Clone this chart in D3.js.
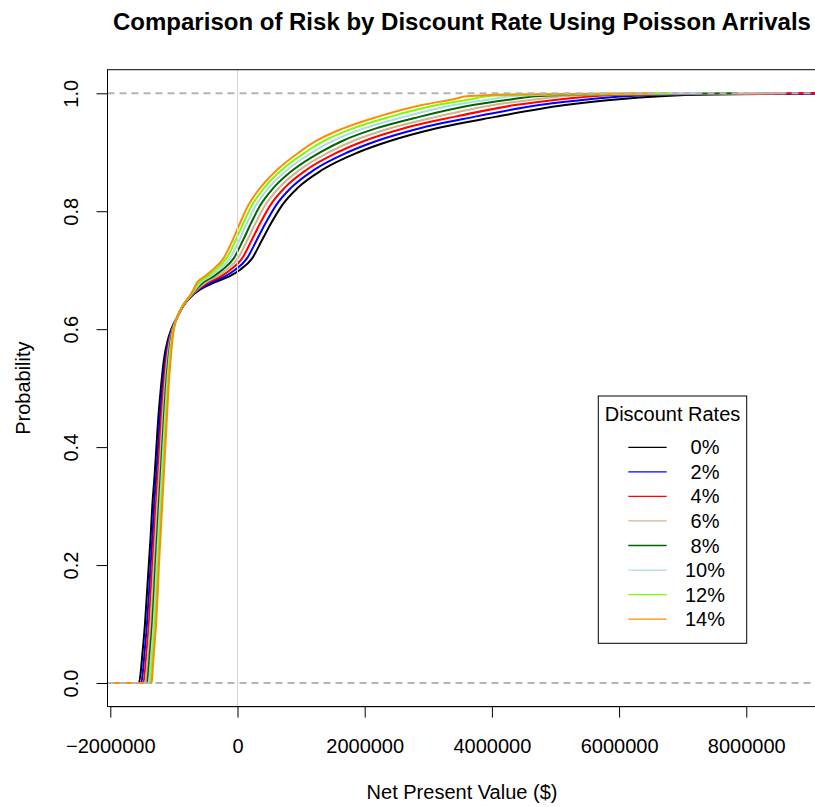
<!DOCTYPE html>
<html><head><meta charset="utf-8">
<script src="https://cdn.jsdelivr.net/npm/d3@7"></script>
<style>
body{margin:0;background:#fff}
svg{display:block}
text{font-family:"Liberation Sans",Arial,Helvetica,sans-serif;fill:#000}
</style>
</head><body>
<svg id="chart" width="815" height="807"></svg>
<script>
// Cumulative probability levels (ECDF) shared by all series
const probs = [0,0.02,0.05,0.10,0.15,0.20,0.25,0.30,0.35,0.40,0.45,0.50,0.55,0.58,0.60,0.62,0.64,0.66,0.68,0.69,0.70,0.72,0.75,0.78,0.81,0.84,0.87,0.90,0.92,0.94,0.96,0.98,0.99,0.995,0.998,1.0];

// Net present value (millions of $) at each probability level, one array per discount rate
const npv0  = [-1.55,-1.52,-1.495,-1.455,-1.425,-1.395,-1.365,-1.34,-1.305,-1.275,-1.245,-1.205,-1.155,-1.10,-1.04,-0.95,-0.85,-0.68,-0.35,-0.12,0.03,0.23,0.38,0.53,0.70,0.95,1.33,1.90,2.42,3.10,4.05,5.15,6.00,6.65,7.40,9.70];
const npv2  = [-1.514,-1.487,-1.463,-1.424,-1.394,-1.366,-1.337,-1.312,-1.279,-1.25,-1.221,-1.183,-1.136,-1.087,-1.033,-0.95,-0.852,-0.689,-0.40,-0.19,-0.047,0.149,0.297,0.442,0.605,0.844,1.202,1.733,2.209,2.839,3.717,4.745,5.532,6.101,6.842,9.45];
const npv4  = [-1.48,-1.455,-1.432,-1.394,-1.366,-1.339,-1.311,-1.286,-1.254,-1.226,-1.198,-1.163,-1.118,-1.074,-1.026,-0.95,-0.854,-0.698,-0.448,-0.257,-0.121,0.073,0.219,0.359,0.515,0.744,1.082,1.575,2.011,2.593,3.403,4.363,5.09,5.583,6.315,9.2];
const npv6  = [-1.45,-1.428,-1.405,-1.368,-1.34,-1.315,-1.288,-1.263,-1.233,-1.205,-1.178,-1.145,-1.103,-1.063,-1.02,-0.95,-0.855,-0.705,-0.49,-0.315,-0.185,0.005,0.15,0.285,0.435,0.655,0.975,1.435,1.835,2.375,3.125,4.025,4.70,5.125,5.85,8.6];
const npv8  = [-1.421,-1.401,-1.379,-1.342,-1.315,-1.292,-1.265,-1.24,-1.211,-1.185,-1.158,-1.128,-1.087,-1.052,-1.014,-0.95,-0.856,-0.712,-0.531,-0.372,-0.247,-0.06,0.083,0.214,0.358,0.569,0.872,1.30,1.665,2.165,2.857,3.699,4.323,4.683,5.40,7.87];
const npv10 = [-1.395,-1.377,-1.355,-1.319,-1.293,-1.271,-1.245,-1.22,-1.193,-1.167,-1.14,-1.112,-1.074,-1.042,-1.009,-0.95,-0.858,-0.719,-0.567,-0.422,-0.303,-0.119,0.024,0.15,0.289,0.493,0.78,1.179,1.513,1.976,2.616,3.406,3.985,4.286,4.998,7.27];
const npv12 = [-1.371,-1.354,-1.334,-1.298,-1.273,-1.252,-1.226,-1.201,-1.175,-1.15,-1.124,-1.098,-1.061,-1.033,-1.004,-0.95,-0.859,-0.725,-0.601,-0.469,-0.355,-0.173,-0.032,0.091,0.226,0.422,0.695,1.068,1.373,1.802,2.394,3.136,3.673,3.92,4.625,6.80];
const npv14 = [-1.35,-1.335,-1.315,-1.28,-1.255,-1.235,-1.21,-1.185,-1.16,-1.135,-1.11,-1.085,-1.05,-1.025,-1.0,-0.95,-0.86,-0.73,-0.63,-0.51,-0.40,-0.22,-0.08,0.04,0.17,0.36,0.62,0.97,1.25,1.65,2.2,2.9,3.4,3.6,4.3,6.56];

const rateLabels = ["0%","2%","4%","6%","8%","10%","12%","14%"];
const rateColors = ["#000000","#0000FF","#FF0000","#D2B48C","#006400","#ADD8E6","#7CFC00","#FF8C00"];
const xTicks = [-2000000,0,2000000,4000000,6000000,8000000];
const yTicks = [0,0.2,0.4,0.6,0.8,1.0];
const xLimits = [-2044000, 9104000];
const yLimits = [-0.04, 1.04];

const seriesNpv = [npv0,npv2,npv4,npv6,npv8,npv10,npv12,npv14];

const svg = d3.select("#chart");
const plotL = 107.5, plotR = 816.5, plotT = 69.7, plotB = 706.6;
const x = d3.scaleLinear().domain(xLimits).range([plotL, plotR]);
const y = d3.scaleLinear().domain(yLimits).range([plotB, plotT]);

svg.append("defs").append("clipPath").attr("id","clip")
  .append("rect").attr("x",plotL).attr("y",plotT).attr("width",plotR-plotL).attr("height",plotB-plotT);

const line = d3.line().x(d=>x(d[0])).y(d=>y(d[1])).curve(d3.curveMonotoneX);

const curves = svg.append("g").attr("clip-path","url(#clip)");
seriesNpv.forEach((arr,i)=>{
  const pts = [[xLimits[0],0]].concat(arr.map((v,j)=>[v*1e6, probs[j]]));
  curves.append("path").datum(pts).attr("d",line)
    .attr("fill","none").attr("stroke",rateColors[i]).attr("stroke-width",2)
    .attr("stroke-linejoin","round");
});

// reference lines
const refs = svg.append("g").attr("clip-path","url(#clip)");
refs.append("line").attr("x1",x(0)).attr("x2",x(0)).attr("y1",plotT).attr("y2",plotB)
  .attr("stroke","#D3D3D3").attr("stroke-width",1);
[0,1].forEach(v=>{
  refs.append("line").attr("x1",plotL).attr("x2",plotR).attr("y1",y(v)).attr("y2",y(v))
    .attr("stroke","#B4B4B4").attr("stroke-width",2).attr("stroke-dasharray","7,5");
});

// box
svg.append("rect").attr("x",plotL).attr("y",plotT).attr("width",plotR-plotL).attr("height",plotB-plotT)
  .attr("fill","none").attr("stroke","#000").attr("stroke-width",1);

// x axis
const fmtX = d => d<0 ? "\u2212"+Math.abs(d) : String(d);
const gx = svg.append("g").attr("transform",`translate(0,${plotB})`)
  .call(d3.axisBottom(x).tickValues(xTicks).tickSize(11).tickPadding(21).tickFormat(fmtX));
gx.select(".domain").remove();
gx.selectAll("line").attr("stroke","#000");
gx.selectAll("text").attr("font-size",20).attr("font-family",null);
gx.append("line").attr("x1",x(xTicks[0])).attr("x2",x(xTicks[xTicks.length-1])).attr("y1",0).attr("y2",0).attr("stroke","#000");

// y axis
const gy = svg.append("g").attr("transform",`translate(${plotL},0)`)
  .call(d3.axisLeft(y).tickValues(yTicks).tickSize(11).tickFormat(d3.format(".1f")));
gy.select(".domain").remove();
gy.selectAll("line").attr("stroke","#000");
gy.selectAll("text").attr("font-size",20).attr("font-family",null)
  .attr("x",null).attr("dy",null).attr("text-anchor","middle")
  .attr("transform","translate(-29.5,0) rotate(-90)");
gy.append("line").attr("x1",0).attr("x2",0).attr("y1",y(yTicks[0])).attr("y2",y(yTicks[yTicks.length-1])).attr("stroke","#000");

// titles
svg.append("text").attr("x",(plotL+plotR)/2).attr("y",30).attr("text-anchor","middle")
  .attr("font-size",24).attr("font-weight","bold").text("Comparison of Risk by Discount Rate Using Poisson Arrivals");
svg.append("text").attr("x",(plotL+plotR)/2).attr("y",799).attr("text-anchor","middle")
  .attr("font-size",20).text("Net Present Value ($)");
svg.append("text").attr("transform",`translate(30,${(plotT+plotB)/2}) rotate(-90)`).attr("text-anchor","middle")
  .attr("font-size",20).text("Probability");

// legend
const lg = svg.append("g");
const lgX = 598.3, lgY = 396, lgW = 148.4, lgH = 247.3;
lg.append("rect").attr("x",lgX).attr("y",lgY).attr("width",lgW).attr("height",lgH)
  .attr("fill","#fff").attr("stroke","#000").attr("stroke-width",1);
lg.append("text").attr("x",lgX+lgW/2).attr("y",414).attr("dy","0.35em").attr("text-anchor","middle")
  .attr("font-size",20).text("Discount Rates");
rateLabels.forEach((lab,i)=>{
  const yy = 447.3 + i*24.55;
  lg.append("line").attr("x1",628.3).attr("x2",666.7).attr("y1",yy).attr("y2",yy)
    .attr("stroke",rateColors[i]).attr("stroke-width",1.3);
  lg.append("text").attr("x",705).attr("y",yy).attr("dy","0.35em").attr("text-anchor","middle")
    .attr("font-size",20).text(lab);
});
</script>
</body></html>
